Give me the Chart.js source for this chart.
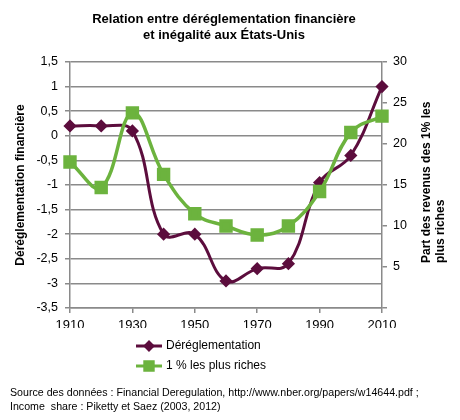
<!DOCTYPE html>
<html lang="fr">
<head>
<meta charset="UTF-8">
<title>Déréglementation financière et inégalité</title>
<script src="https://cdn.jsdelivr.net/npm/chart.js"></script>
<style>
  body { margin: 0; background: #fff; font-family: "Liberation Sans", Arial, sans-serif; }
  .wrap { position: relative; width: 460px; height: 420px; }
  .source { position: absolute; left: 10px; top: 385px; font-size: 10.65px; line-height: 14px; color: #000; white-space: nowrap; }
</style>
</head>
<body>
<div class="wrap">
  <canvas id="chart" width="460" height="420"></canvas>
  <div class="source">Source des données : Financial Deregulation, http://www.nber.org/papers/w14644.pdf ;<br>Income&nbsp; share : Piketty et Saez (2003, 2012)</div>
</div>
<script>
const years = [1910, 1920, 1930, 1940, 1950, 1960, 1970, 1980, 1990, 2000, 2010];
const deregulation = [0.2, 0.2, 0.1, -2.0, -2.0, -2.95, -2.7, -2.6, -0.95, -0.4, 1.0];
const topShare = [17.8, 14.7, 23.8, 16.3, 11.5, 10.0, 8.9, 10.0, 14.2, 21.4, 23.4];
const yearTicks = [1910, 1930, 1950, 1970, 1990, 2010];
const titleLines = ['Relation entre déréglementation financière', 'et inégalité aux États-Unis'];
const leftTitle = 'Déréglementation financière';
const rightTitle = ['Part des revenus des 1% les', 'plus riches'];

const font = '"Liberation Sans", Arial, sans-serif';
const maroon = '#5c0d3d';
const green = '#6cb33e';
const gray = '#8a8a8a';

Chart.defaults.font.family = font;
Chart.defaults.color = '#000';

// right title reads bottom-to-top like the left one, legend stacked under the plot
const extras = {
  id: 'extras',
  afterDraw(chart) {
    const { ctx, chartArea: a } = chart;
    ctx.save();
    ctx.font = 'bold 12px ' + font;
    ctx.fillStyle = '#000';
    ctx.textBaseline = 'middle';
    ctx.textAlign = 'left';
    ctx.translate(a.right + 45, a.bottom - 45);
    ctx.rotate(-Math.PI / 2);
    rightTitle.forEach((t, i) => ctx.fillText(t, 0, i * 14));
    ctx.restore();

    ctx.save();
    chart.data.datasets.forEach((ds, i) => {
      const x0 = a.left + 66;
      const y = a.bottom + 38 + i * 20;
      ctx.strokeStyle = ds.borderColor;
      ctx.fillStyle = ds.borderColor;
      ctx.lineWidth = 3;
      ctx.beginPath();
      ctx.moveTo(x0, y);
      ctx.lineTo(x0 + 26, y);
      ctx.stroke();
      Chart.helpers.drawPoint(ctx, { pointStyle: ds.pointStyle, radius: ds.pointRadius * 0.85, rotation: 0, borderWidth: 1 }, x0 + 13, y);
      ctx.fillStyle = '#000';
      ctx.font = '12px ' + font;
      ctx.textBaseline = 'middle';
      ctx.textAlign = 'left';
      ctx.fillText(ds.label, x0 + 30, y);
    });
    ctx.restore();
  }
};

new Chart(document.getElementById('chart'), {
  type: 'line',
  data: {
    labels: years,
    datasets: [
      {
        label: 'Déréglementation',
        data: deregulation,
        yAxisID: 'y',
        borderColor: maroon,
        backgroundColor: maroon,
        borderWidth: 3,
        pointStyle: 'rectRot',
        pointRadius: 4.5,
        tension: 0.4,
        clip: false,
        order: 1
      },
      {
        label: '1 % les plus riches',
        data: topShare,
        yAxisID: 'y1',
        borderColor: green,
        backgroundColor: green,
        borderWidth: 3.5,
        pointStyle: 'rect',
        pointRadius: 7,
        tension: 0.4,
        clip: false,
        order: 0
      }
    ]
  },
  options: {
    responsive: false,
    animation: false,
    layout: { padding: { left: 0, right: 12, top: 0, bottom: 92 } },
    plugins: {
      legend: { display: false },
      tooltip: { enabled: false },
      title: {
        display: true,
        text: titleLines,
        font: { size: 13, weight: 'bold', lineHeight: 16 / 13 },
        padding: { top: 11, bottom: 19 }
      }
    },
    scales: {
      x: {
        type: 'linear',
        min: 1910,
        max: 2010,
        afterBuildTicks: s => { s.ticks = yearTicks.map(v => ({ value: v })); },
        afterFit: s => { s.height = 20; },
        grid: { drawOnChartArea: false, color: gray, lineWidth: 1.5, tickLength: 5 },
        border: { color: gray, width: 1.5 },
        ticks: { font: { size: 13 }, padding: 5, maxRotation: 0, callback: v => String(v) }
      },
      y: {
        position: 'left',
        min: -3.5,
        max: 1.5,
        afterFit: s => { s.width = 70; },
        grid: { color: gray, lineWidth: 1.5, tickLength: 5 },
        border: { color: gray, width: 1.5 },
        ticks: { stepSize: 0.5, font: { size: 12.5 }, padding: 7, callback: v => String(v).replace('.', ',') },
        title: { display: true, text: leftTitle, font: { size: 12, weight: 'bold' }, padding: { top: 13 } }
      },
      y1: {
        position: 'right',
        min: 0,
        max: 30,
        afterFit: s => { s.width = 66; },
        grid: { drawOnChartArea: false, color: gray, lineWidth: 1.5, tickLength: 5 },
        border: { color: gray, width: 1.5 },
        ticks: { stepSize: 5, font: { size: 12.5 }, padding: 6, callback: v => v === 0 ? '' : String(v) }
      }
    }
  },
  plugins: [extras]
});
</script>
</body>
</html>
